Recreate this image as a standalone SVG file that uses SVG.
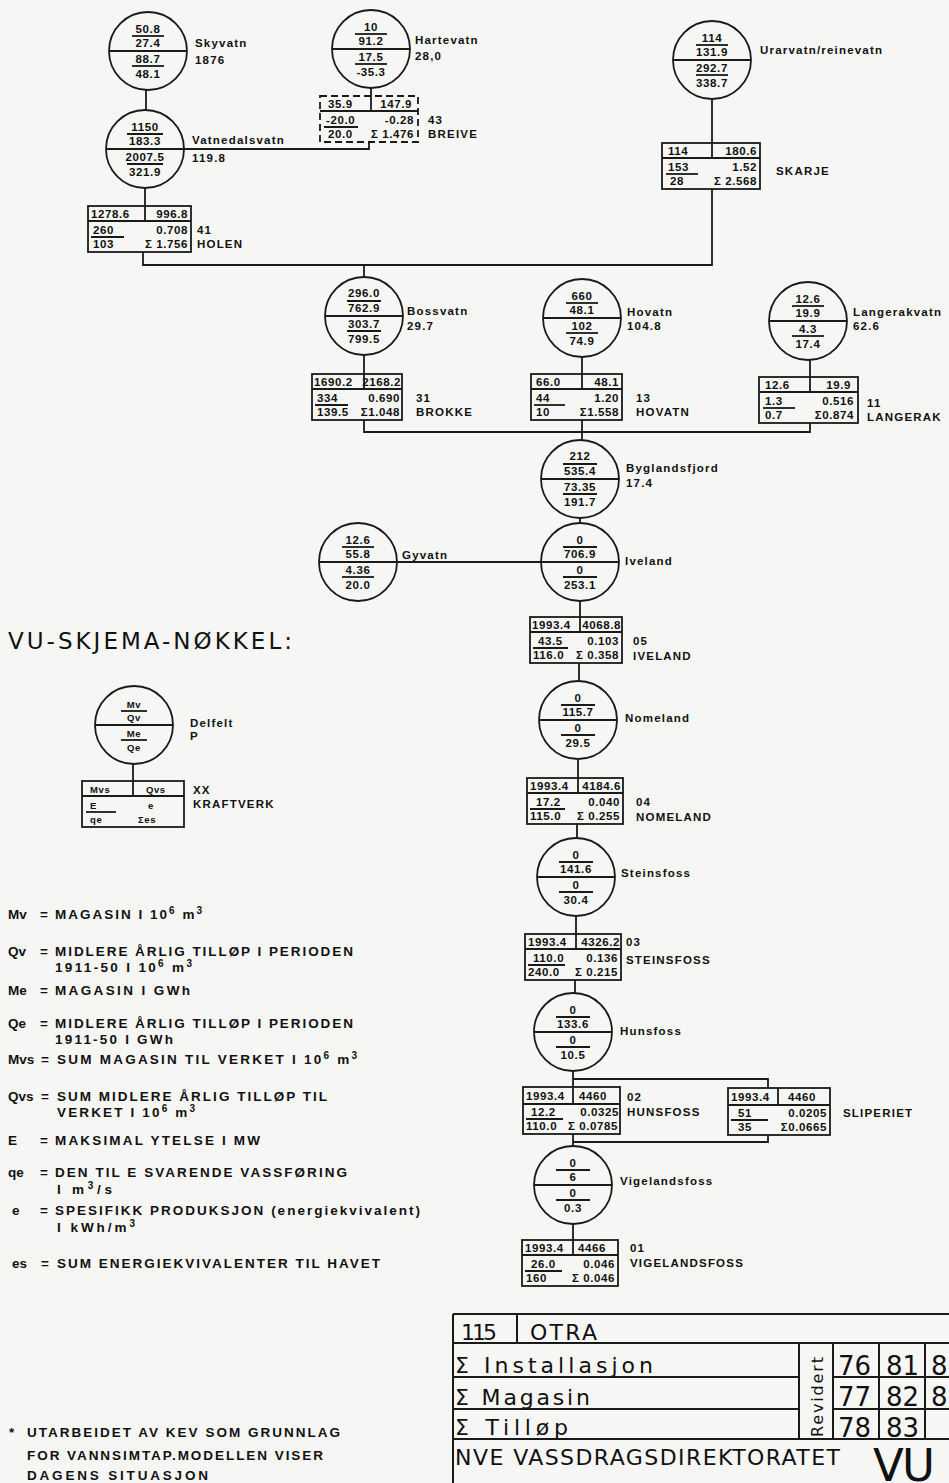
<svg xmlns="http://www.w3.org/2000/svg" width="949" height="1483" viewBox="0 0 949 1483">
<style>
.ln{stroke:#1a1a1a;stroke-width:1.8;fill:none}
.dl{stroke:#1a1a1a;stroke-width:1.8;fill:none;stroke-dasharray:7 4}
.tl{stroke:#1a1a1a;stroke-width:2;fill:none}
.n{font-family:"Liberation Sans",Arial,sans-serif;font-weight:bold;font-size:11.5px;letter-spacing:0.6px;fill:#111}
.k{font-family:"Liberation Sans",Arial,sans-serif;font-weight:bold;font-size:9.5px;letter-spacing:0.6px;fill:#111}
.lb{font-family:"Liberation Sans",Arial,sans-serif;font-weight:bold;font-size:11.5px;letter-spacing:1.2px;fill:#111}
.lg{font-family:"Liberation Sans",Arial,sans-serif;font-weight:bold;font-size:13.5px;fill:#111}
.tb{font-family:"DejaVu Sans","Liberation Sans",sans-serif;font-size:22px;fill:#111}
.tn{font-family:"DejaVu Sans","Liberation Sans",sans-serif;font-size:26px;fill:#111}
.m{text-anchor:middle}
.r{text-anchor:end}
</style>
<rect width="949" height="1483" fill="#f6f6f4"/>

<!-- connectors -->
<g id="connectors" class="ln">
<path d="M146,90 V110"/>
<path d="M371,88 V96"/>
<path d="M184,149 H369 V142"/>
<path d="M145,188 V206"/>
<path d="M712,99 V143"/>
<path d="M143,252 V265 H712 V189"/>
<path d="M364,265 V277"/>
<path d="M364,355 V374"/>
<path d="M582,357 V374"/>
<path d="M810,360 V377"/>
<path d="M364,420 V432 H810 V423"/>
<path d="M582,420 V440"/>
<path d="M580,518 V523"/>
<path d="M397,562 H541"/>
<path d="M580,601 V617"/>
<path d="M579,663 V681"/>
<path d="M578,759 V778"/>
<path d="M577,824 V838"/>
<path d="M576,916 V934"/>
<path d="M575,980 V993"/>
<path d="M573,1071 V1087 M573,1079 H768 V1088"/>
<path d="M573,1134 V1146 M573,1142 H768 V1135"/>
<path d="M573,1224 V1240"/>
<path d="M133,764 V781"/>
</g>

<!-- reservoir / field circles -->
<g id="skyvatn" transform="translate(148,51)">
<circle r="39" class="ln"/><line x1="-39" x2="39" class="ln"/>
<text class="n m" y="-18">50.8</text><line x1="-16" y1="-15" x2="16" y2="-15" class="ln"/><text class="n m" y="-4">27.4</text>
<text class="n m" y="12">88.7</text><line x1="-16" y1="15" x2="16" y2="15" class="ln"/><text class="n m" y="27">48.1</text>
<text class="lb" x="47" y="-4">Skyvatn</text><text class="lb" x="47" y="13">1876</text>
</g>
<g id="hartevatn" transform="translate(371,49)">
<circle r="39" class="ln"/><line x1="-39" x2="39" class="ln"/>
<text class="n m" y="-18">10</text><line x1="-16" y1="-15" x2="16" y2="-15" class="ln"/><text class="n m" y="-4">91.2</text>
<text class="n m" y="12">17.5</text><line x1="-16" y1="15" x2="16" y2="15" class="ln"/><text class="n m" y="27">-35.3</text>
<text class="lb" x="44" y="-5">Hartevatn</text><text class="lb" x="44" y="11">28,0</text>
</g>
<g id="urarvatn" transform="translate(712,60)">
<circle r="39" class="ln"/><line x1="-39" x2="39" class="ln"/>
<text class="n m" y="-18">114</text><line x1="-16" y1="-15" x2="16" y2="-15" class="ln"/><text class="n m" y="-4">131.9</text>
<text class="n m" y="12">292.7</text><line x1="-16" y1="15" x2="16" y2="15" class="ln"/><text class="n m" y="27">338.7</text>
<text class="lb" x="48" y="-6">Urarvatn/reinevatn</text>
</g>
<g id="vatnedalsvatn" transform="translate(145,149)">
<circle r="39" class="ln"/><line x1="-39" x2="39" class="ln"/>
<text class="n m" y="-18">1150</text><line x1="-18" y1="-15" x2="18" y2="-15" class="ln"/><text class="n m" y="-4">183.3</text>
<text class="n m" y="12">2007.5</text><line x1="-18" y1="15" x2="18" y2="15" class="ln"/><text class="n m" y="27">321.9</text>
<text class="lb" x="47" y="-5">Vatnedalsvatn</text><text class="lb" x="47" y="13">119.8</text>
</g>
<g id="bossvatn" transform="translate(364,316)">
<circle r="39" class="ln"/><line x1="-39" x2="39" class="ln"/>
<text class="n m" y="-19">296.0</text><line x1="-17" y1="-15" x2="17" y2="-15" class="ln"/><text class="n m" y="-4">762.9</text>
<text class="n m" y="12">303.7</text><line x1="-17" y1="15" x2="17" y2="15" class="ln"/><text class="n m" y="27">799.5</text>
<text class="lb" x="43" y="-1">Bossvatn</text><text class="lb" x="43" y="14">29.7</text>
</g>
<g id="hovatn" transform="translate(582,318)">
<circle r="39" class="ln"/><line x1="-39" x2="39" class="ln"/>
<text class="n m" y="-18">660</text><line x1="-16" y1="-15" x2="16" y2="-15" class="ln"/><text class="n m" y="-4">48.1</text>
<text class="n m" y="12">102</text><line x1="-16" y1="15" x2="16" y2="15" class="ln"/><text class="n m" y="27">74.9</text>
<text class="lb" x="45" y="-2">Hovatn</text><text class="lb" x="45" y="12">104.8</text>
</g>
<g id="langerakvatn" transform="translate(808,321)">
<circle r="39" class="ln"/><line x1="-39" x2="39" class="ln"/>
<text class="n m" y="-18">12.6</text><line x1="-16" y1="-15" x2="16" y2="-15" class="ln"/><text class="n m" y="-4">19.9</text>
<text class="n m" y="12">4.3</text><line x1="-16" y1="15" x2="16" y2="15" class="ln"/><text class="n m" y="27">17.4</text>
<text class="lb" x="45" y="-5">Langerakvatn</text><text class="lb" x="45" y="9">62.6</text>
</g>
<g id="byglandsfjord" transform="translate(580,479)">
<circle r="39" class="ln"/><line x1="-39" x2="39" class="ln"/>
<text class="n m" y="-19">212</text><line x1="-17" y1="-15" x2="17" y2="-15" class="ln"/><text class="n m" y="-4">535.4</text>
<text class="n m" y="12">73.35</text><line x1="-17" y1="15" x2="17" y2="15" class="ln"/><text class="n m" y="27">191.7</text>
<text class="lb" x="46" y="-7">Byglandsfjord</text><text class="lb" x="46" y="8">17.4</text>
</g>
<g id="gyvatn" transform="translate(358,562)">
<circle r="39" class="ln"/><line x1="-39" x2="39" class="ln"/>
<text class="n m" y="-18">12.6</text><line x1="-16" y1="-15" x2="16" y2="-15" class="ln"/><text class="n m" y="-4">55.8</text>
<text class="n m" y="12">4.36</text><line x1="-16" y1="15" x2="16" y2="15" class="ln"/><text class="n m" y="27">20.0</text>
<text class="lb" x="44" y="-3">Gyvatn</text>
</g>
<g id="iveland" transform="translate(580,562)">
<circle r="39" class="ln"/><line x1="-39" x2="39" class="ln"/>
<text class="n m" y="-18">0</text><line x1="-17" y1="-15" x2="17" y2="-15" class="ln"/><text class="n m" y="-4">706.9</text>
<text class="n m" y="12">0</text><line x1="-17" y1="15" x2="17" y2="15" class="ln"/><text class="n m" y="27">253.1</text>
<text class="lb" x="45" y="3">Iveland</text>
</g>
<g id="nomeland" transform="translate(578,720)">
<circle r="39" class="ln"/><line x1="-39" x2="39" class="ln"/>
<text class="n m" y="-18">0</text><line x1="-17" y1="-15" x2="17" y2="-15" class="ln"/><text class="n m" y="-4">115.7</text>
<text class="n m" y="12">0</text><line x1="-17" y1="15" x2="17" y2="15" class="ln"/><text class="n m" y="27">29.5</text>
<text class="lb" x="47" y="2">Nomeland</text>
</g>
<g id="steinsfoss" transform="translate(576,877)">
<circle r="39" class="ln"/><line x1="-39" x2="39" class="ln"/>
<text class="n m" y="-18">0</text><line x1="-17" y1="-15" x2="17" y2="-15" class="ln"/><text class="n m" y="-4">141.6</text>
<text class="n m" y="12">0</text><line x1="-17" y1="15" x2="17" y2="15" class="ln"/><text class="n m" y="27">30.4</text>
<text class="lb" x="45" y="0">Steinsfoss</text>
</g>
<g id="hunsfoss" transform="translate(573,1032)">
<circle r="39" class="ln"/><line x1="-39" x2="39" class="ln"/>
<text class="n m" y="-18">0</text><line x1="-17" y1="-15" x2="17" y2="-15" class="ln"/><text class="n m" y="-4">133.6</text>
<text class="n m" y="12">0</text><line x1="-17" y1="15" x2="17" y2="15" class="ln"/><text class="n m" y="27">10.5</text>
<text class="lb" x="47" y="3">Hunsfoss</text>
</g>
<g id="vigelandsfoss" transform="translate(573,1185)">
<circle r="39" class="ln"/><line x1="-39" x2="39" class="ln"/>
<text class="n m" y="-18">0</text><line x1="-17" y1="-15" x2="17" y2="-15" class="ln"/><text class="n m" y="-4">6</text>
<text class="n m" y="12">0</text><line x1="-17" y1="15" x2="17" y2="15" class="ln"/><text class="n m" y="27">0.3</text>
<text class="lb" x="47" y="0">Vigelandsfoss</text>
</g>

<!-- power station boxes -->
<g id="holen" transform="translate(88,206)">
<rect width="103" height="46" class="ln"/><line y1="15" x2="103" y2="15" class="ln"/><line x1="57" x2="57" y2="15" class="ln"/>
<text class="n" x="3" y="12">1278.6</text><text class="n r" x="100" y="12">996.8</text>
<text class="n" x="5" y="28">260</text><line x1="3" y1="31" x2="36" y2="31" class="ln"/><text class="n" x="5" y="42">103</text>
<text class="n r" x="100" y="28">0.708</text><text class="n r" x="100" y="42">Σ 1.756</text>
<text class="lb" x="109" y="28">41</text><text class="lb" x="109" y="42">HOLEN</text>
</g>
<g id="breive" transform="translate(320,96)">
<rect width="98" height="46" class="dl"/><line y1="15" x2="98" y2="15" class="ln"/><line x1="51" x2="51" y2="15" class="ln"/>
<text class="n" x="8" y="12">35.9</text><text class="n r" x="92" y="12">147.9</text>
<text class="n" x="6" y="28">-20.0</text><line x1="4" y1="31" x2="38" y2="31" class="ln"/><text class="n" x="8" y="42">20.0</text>
<text class="n r" x="94" y="28">-0.28</text><text class="n r" x="94" y="42">Σ 1.476</text>
<text class="lb" x="108" y="28">43</text><text class="lb" x="108" y="42">BREIVE</text>
</g>
<g id="skarje" transform="translate(662,143)">
<rect width="98" height="46" class="ln"/><line y1="15" x2="98" y2="15" class="ln"/><line x1="50" x2="50" y2="15" class="ln"/>
<text class="n" x="6" y="12">114</text><text class="n r" x="95" y="12">180.6</text>
<text class="n" x="6" y="28">153</text><line x1="4" y1="31" x2="36" y2="31" class="ln"/><text class="n" x="8" y="42">28</text>
<text class="n r" x="95" y="28">1.52</text><text class="n r" x="95" y="42">Σ 2.568</text>
<text class="lb" x="114" y="32">SKARJE</text>
</g>
<g id="brokke" transform="translate(312,374)">
<rect width="90" height="46" class="ln"/><line y1="15" x2="90" y2="15" class="ln"/><line x1="52" x2="52" y2="15" class="ln"/>
<text class="n" x="2" y="12">1690.2</text><text class="n r" x="89" y="12">2168.2</text>
<text class="n" x="5" y="28">334</text><line x1="3" y1="31" x2="36" y2="31" class="ln"/><text class="n" x="5" y="42">139.5</text>
<text class="n r" x="88" y="28">0.690</text><text class="n r" x="88" y="42">Σ1.048</text>
<text class="lb" x="104" y="28">31</text><text class="lb" x="104" y="42">BROKKE</text>
</g>
<g id="hovatn-kv" transform="translate(531,374)">
<rect width="91" height="46" class="ln"/><line y1="15" x2="91" y2="15" class="ln"/><line x1="51" x2="51" y2="15" class="ln"/>
<text class="n" x="5" y="12">66.0</text><text class="n r" x="88" y="12">48.1</text>
<text class="n" x="5" y="28">44</text><line x1="3" y1="31" x2="34" y2="31" class="ln"/><text class="n" x="5" y="42">10</text>
<text class="n r" x="88" y="28">1.20</text><text class="n r" x="88" y="42">Σ1.558</text>
<text class="lb" x="105" y="28">13</text><text class="lb" x="105" y="42">HOVATN</text>
</g>
<g id="langerak" transform="translate(759,377)">
<rect width="99" height="46" class="ln"/><line y1="15" x2="99" y2="15" class="ln"/><line x1="51" x2="51" y2="15" class="ln"/>
<text class="n" x="6" y="12">12.6</text><text class="n r" x="92" y="12">19.9</text>
<text class="n" x="6" y="28">1.3</text><line x1="4" y1="31" x2="36" y2="31" class="ln"/><text class="n" x="6" y="42">0.7</text>
<text class="n r" x="95" y="28">0.516</text><text class="n r" x="95" y="42">Σ0.874</text>
<text class="lb" x="108" y="30">11</text><text class="lb" x="108" y="44">LANGERAK</text>
</g>
<g id="iveland-kv" transform="translate(530,617)">
<rect width="92" height="46" class="ln"/><line y1="15" x2="92" y2="15" class="ln"/><line x1="50" x2="50" y2="15" class="ln"/>
<text class="n" x="2" y="12">1993.4</text><text class="n r" x="91" y="12">4068.8</text>
<text class="n" x="8" y="28">43.5</text><line x1="3" y1="31" x2="38" y2="31" class="ln"/><text class="n" x="3" y="42">116.0</text>
<text class="n r" x="89" y="28">0.103</text><text class="n r" x="89" y="42">Σ 0.358</text>
<text class="lb" x="103" y="28">05</text><text class="lb" x="103" y="43">IVELAND</text>
</g>
<g id="nomeland-kv" transform="translate(527,778)">
<rect width="96" height="46" class="ln"/><line y1="15" x2="96" y2="15" class="ln"/><line x1="51" x2="51" y2="15" class="ln"/>
<text class="n" x="3" y="12">1993.4</text><text class="n r" x="94" y="12">4184.6</text>
<text class="n" x="9" y="28">17.2</text><line x1="3" y1="31" x2="38" y2="31" class="ln"/><text class="n" x="3" y="42">115.0</text>
<text class="n r" x="93" y="28">0.040</text><text class="n r" x="93" y="42">Σ 0.255</text>
<text class="lb" x="109" y="28">04</text><text class="lb" x="109" y="43">NOMELAND</text>
</g>
<g id="steinsfoss-kv" transform="translate(525,934)">
<rect width="96" height="46" class="ln"/><line y1="15" x2="96" y2="15" class="ln"/><line x1="51" x2="51" y2="15" class="ln"/>
<text class="n" x="3" y="12">1993.4</text><text class="n r" x="95" y="12">4326.2</text>
<text class="n" x="8" y="28">110.0</text><line x1="3" y1="31" x2="40" y2="31" class="ln"/><text class="n" x="3" y="42">240.0</text>
<text class="n r" x="93" y="28">0.136</text><text class="n r" x="93" y="42">Σ 0.215</text>
<text class="lb" x="101" y="12">03</text><text class="lb" x="101" y="30">STEINSFOSS</text>
</g>
<g id="hunsfoss-kv" transform="translate(523,1087)">
<rect width="97" height="47" class="ln"/><line y1="17" x2="97" y2="17" class="ln"/><line x1="50" x2="50" y2="17" class="ln"/>
<text class="n" x="3" y="13">1993.4</text><text class="n" x="56" y="13">4460</text>
<text class="n" x="8" y="29">12.2</text><line x1="3" y1="32" x2="40" y2="32" class="ln"/><text class="n" x="3" y="43">110.0</text>
<text class="n r" x="96" y="29">0.0325</text><text class="n r" x="95" y="43">Σ 0.0785</text>
<text class="lb" x="104" y="14">02</text><text class="lb" x="104" y="29">HUNSFOSS</text>
</g>
<g id="sliperiet" transform="translate(728,1088)">
<rect width="102" height="47" class="ln"/><line y1="17" x2="102" y2="17" class="ln"/><line x1="50" x2="50" y2="17" class="ln"/>
<text class="n" x="3" y="13">1993.4</text><text class="n" x="60" y="13">4460</text>
<text class="n" x="10" y="29">51</text><line x1="3" y1="32" x2="40" y2="32" class="ln"/><text class="n" x="10" y="43">35</text>
<text class="n r" x="99" y="29">0.0205</text><text class="n r" x="99" y="43">Σ0.0665</text>
<text class="lb" x="115" y="29">SLIPERIET</text>
</g>
<g id="vigelandsfoss-kv" transform="translate(522,1240)">
<rect width="96" height="46" class="ln"/><line y1="15" x2="96" y2="15" class="ln"/><line x1="51" x2="51" y2="15" class="ln"/>
<text class="n" x="3" y="12">1993.4</text><text class="n" x="56" y="12">4466</text>
<text class="n" x="9" y="28">26.0</text><line x1="3" y1="31" x2="40" y2="31" class="ln"/><text class="n" x="4" y="42">160</text>
<text class="n r" x="93" y="28">0.046</text><text class="n r" x="93" y="42">Σ 0.046</text>
<text class="lb" x="108" y="12">01</text><text class="lb" x="108" y="27">VIGELANDSFOSS</text>
</g>

<!-- key -->
<g id="key-title">
<text x="8" y="649" font-family="DejaVu Sans, Liberation Sans, sans-serif" font-size="23" fill="#111" textLength="284">VU-SKJEMA-NØKKEL:</text>
</g>
<g id="key-delfelt" transform="translate(134,725)">
<circle r="39" class="ln"/><line x1="-39" x2="39" class="ln"/>
<text class="k m" y="-17">Mv</text><line x1="-13" y1="-14" x2="13" y2="-14" class="ln"/><text class="k m" y="-4">Qv</text>
<text class="k m" y="12">Me</text><line x1="-13" y1="15" x2="13" y2="15" class="ln"/><text class="k m" y="26">Qe</text>
<text class="lb" x="56" y="2">Delfelt</text><text class="lb" x="56" y="15">P</text>
</g>
<g id="key-kraftverk" transform="translate(82,781)">
<rect width="102" height="46" class="ln"/><line y1="15" x2="102" y2="15" class="ln"/><line x1="51" x2="51" y2="15" class="ln"/>
<text class="k" x="8" y="12">Mvs</text><text class="k" x="64" y="12">Qvs</text>
<text class="k" x="8" y="28">E</text><line x1="4" y1="31" x2="34" y2="31" class="ln"/><text class="k" x="8" y="42">qe</text>
<text class="k" x="66" y="28">e</text><text class="k" x="56" y="42">Σes</text>
<text class="lb" x="111" y="13">XX</text><text class="lb" x="111" y="27">KRAFTVERK</text>
</g>

<!-- legend -->
<g id="legend">
<text class="lg" x="8" y="919">Mv</text><text class="lg" x="40" y="919">=</text>
<text class="lg" x="55" y="919" textLength="147">MAGASIN I 10<tspan dy="-5" style="font-size:10px">6</tspan><tspan dy="5"> m</tspan><tspan dy="-5" style="font-size:10px">3</tspan></text>
<text class="lg" x="8" y="956">Qv</text><text class="lg" x="40" y="956">=</text>
<text class="lg" x="55" y="956" textLength="298">MIDLERE ÅRLIG TILLØP I PERIODEN</text>
<text class="lg" x="55" y="972" textLength="137">1911-50 I 10<tspan dy="-5" style="font-size:10px">6</tspan><tspan dy="5"> m</tspan><tspan dy="-5" style="font-size:10px">3</tspan></text>
<text class="lg" x="8" y="995">Me</text><text class="lg" x="40" y="995">=</text>
<text class="lg" x="55" y="995" textLength="135">MAGASIN I GWh</text>
<text class="lg" x="8" y="1028">Qe</text><text class="lg" x="40" y="1028">=</text>
<text class="lg" x="55" y="1028" textLength="298">MIDLERE ÅRLIG TILLØP I PERIODEN</text>
<text class="lg" x="55" y="1044" textLength="118">1911-50 I GWh</text>
<text class="lg" x="8" y="1064">Mvs</text><text class="lg" x="41" y="1064">=</text>
<text class="lg" x="57" y="1064" textLength="300">SUM MAGASIN TIL VERKET I 10<tspan dy="-5" style="font-size:10px">6</tspan><tspan dy="5"> m</tspan><tspan dy="-5" style="font-size:10px">3</tspan></text>
<text class="lg" x="8" y="1101">Qvs</text><text class="lg" x="41" y="1101">=</text>
<text class="lg" x="57" y="1101" textLength="270">SUM MIDLERE ÅRLIG TILLØP TIL</text>
<text class="lg" x="57" y="1117" textLength="138">VERKET I 10<tspan dy="-5" style="font-size:10px">6</tspan><tspan dy="5"> m</tspan><tspan dy="-5" style="font-size:10px">3</tspan></text>
<text class="lg" x="8" y="1145">E</text><text class="lg" x="40" y="1145">=</text>
<text class="lg" x="55" y="1145" textLength="205">MAKSIMAL YTELSE I MW</text>
<text class="lg" x="8" y="1177">qe</text><text class="lg" x="40" y="1177">=</text>
<text class="lg" x="55" y="1177" textLength="292">DEN TIL E SVARENDE VASSFØRING</text>
<text class="lg" x="57" y="1194" textLength="55">I m<tspan dy="-5" style="font-size:10px">3</tspan><tspan dy="5">/s</tspan></text>
<text class="lg" x="12" y="1215">e</text><text class="lg" x="40" y="1215">=</text>
<text class="lg" x="55" y="1215" textLength="365">SPESIFIKK PRODUKSJON (energiekvivalent)</text>
<text class="lg" x="57" y="1232" textLength="78">I kWh/m<tspan dy="-5" style="font-size:10px">3</tspan></text>
<text class="lg" x="12" y="1268">es</text><text class="lg" x="41" y="1268">=</text>
<text class="lg" x="57" y="1268" textLength="323">SUM ENERGIEKVIVALENTER TIL HAVET</text>
</g>

<!-- note -->
<g id="note">
<text class="lg" x="9" y="1437">*</text>
<text class="lg" x="27" y="1437" textLength="313">UTARBEIDET AV KEV SOM GRUNNLAG</text>
<text class="lg" x="27" y="1460" textLength="296">FOR VANNSIMTAP.MODELLEN VISER</text>
<text class="lg" x="27" y="1480" textLength="181">DAGENS  SITUASJON</text>
</g>

<!-- title block -->
<g id="titleblock">
<path class="tl" d="M453,1314 H949 M453,1314 V1483 M453,1343 H949 M517,1314 V1343 M453,1377 H799 M833,1377 H949 M453,1409 H799 M833,1409 H949 M453,1439 H949 M799,1343 V1439 M833,1343 V1439 M879,1343 V1439 M925,1343 V1439"/>
<text class="tb" x="461" y="1340" textLength="36">115</text>
<text class="tb" x="530" y="1340" textLength="67">OTRA</text>
<text class="tb" x="455" y="1373" textLength="198">Σ Installasjon</text>
<text class="tb" x="455" y="1405" textLength="135">Σ Magasin</text>
<text class="tb" x="455" y="1435" textLength="113">Σ Tilløp</text>
<text class="tb" transform="translate(823,1397) rotate(-90)" style="font-size:16px" text-anchor="middle" textLength="80">Revidert</text>
<text class="tn" x="838" y="1375">76</text>
<text class="tn" x="886" y="1375">81</text>
<text class="tn" x="931" y="1375">8</text>
<text class="tn" x="838" y="1406">77</text>
<text class="tn" x="886" y="1406">82</text>
<text class="tn" x="931" y="1406">8</text>
<text class="tn" x="838" y="1437">78</text>
<text class="tn" x="886" y="1437">83</text>
<text class="tb" x="455" y="1465" textLength="385">NVE VASSDRAGSDIREKTORATET</text>
<text class="tb" x="873" y="1481" style="font-size:45px" textLength="62">VU</text>
</g>
</svg>
